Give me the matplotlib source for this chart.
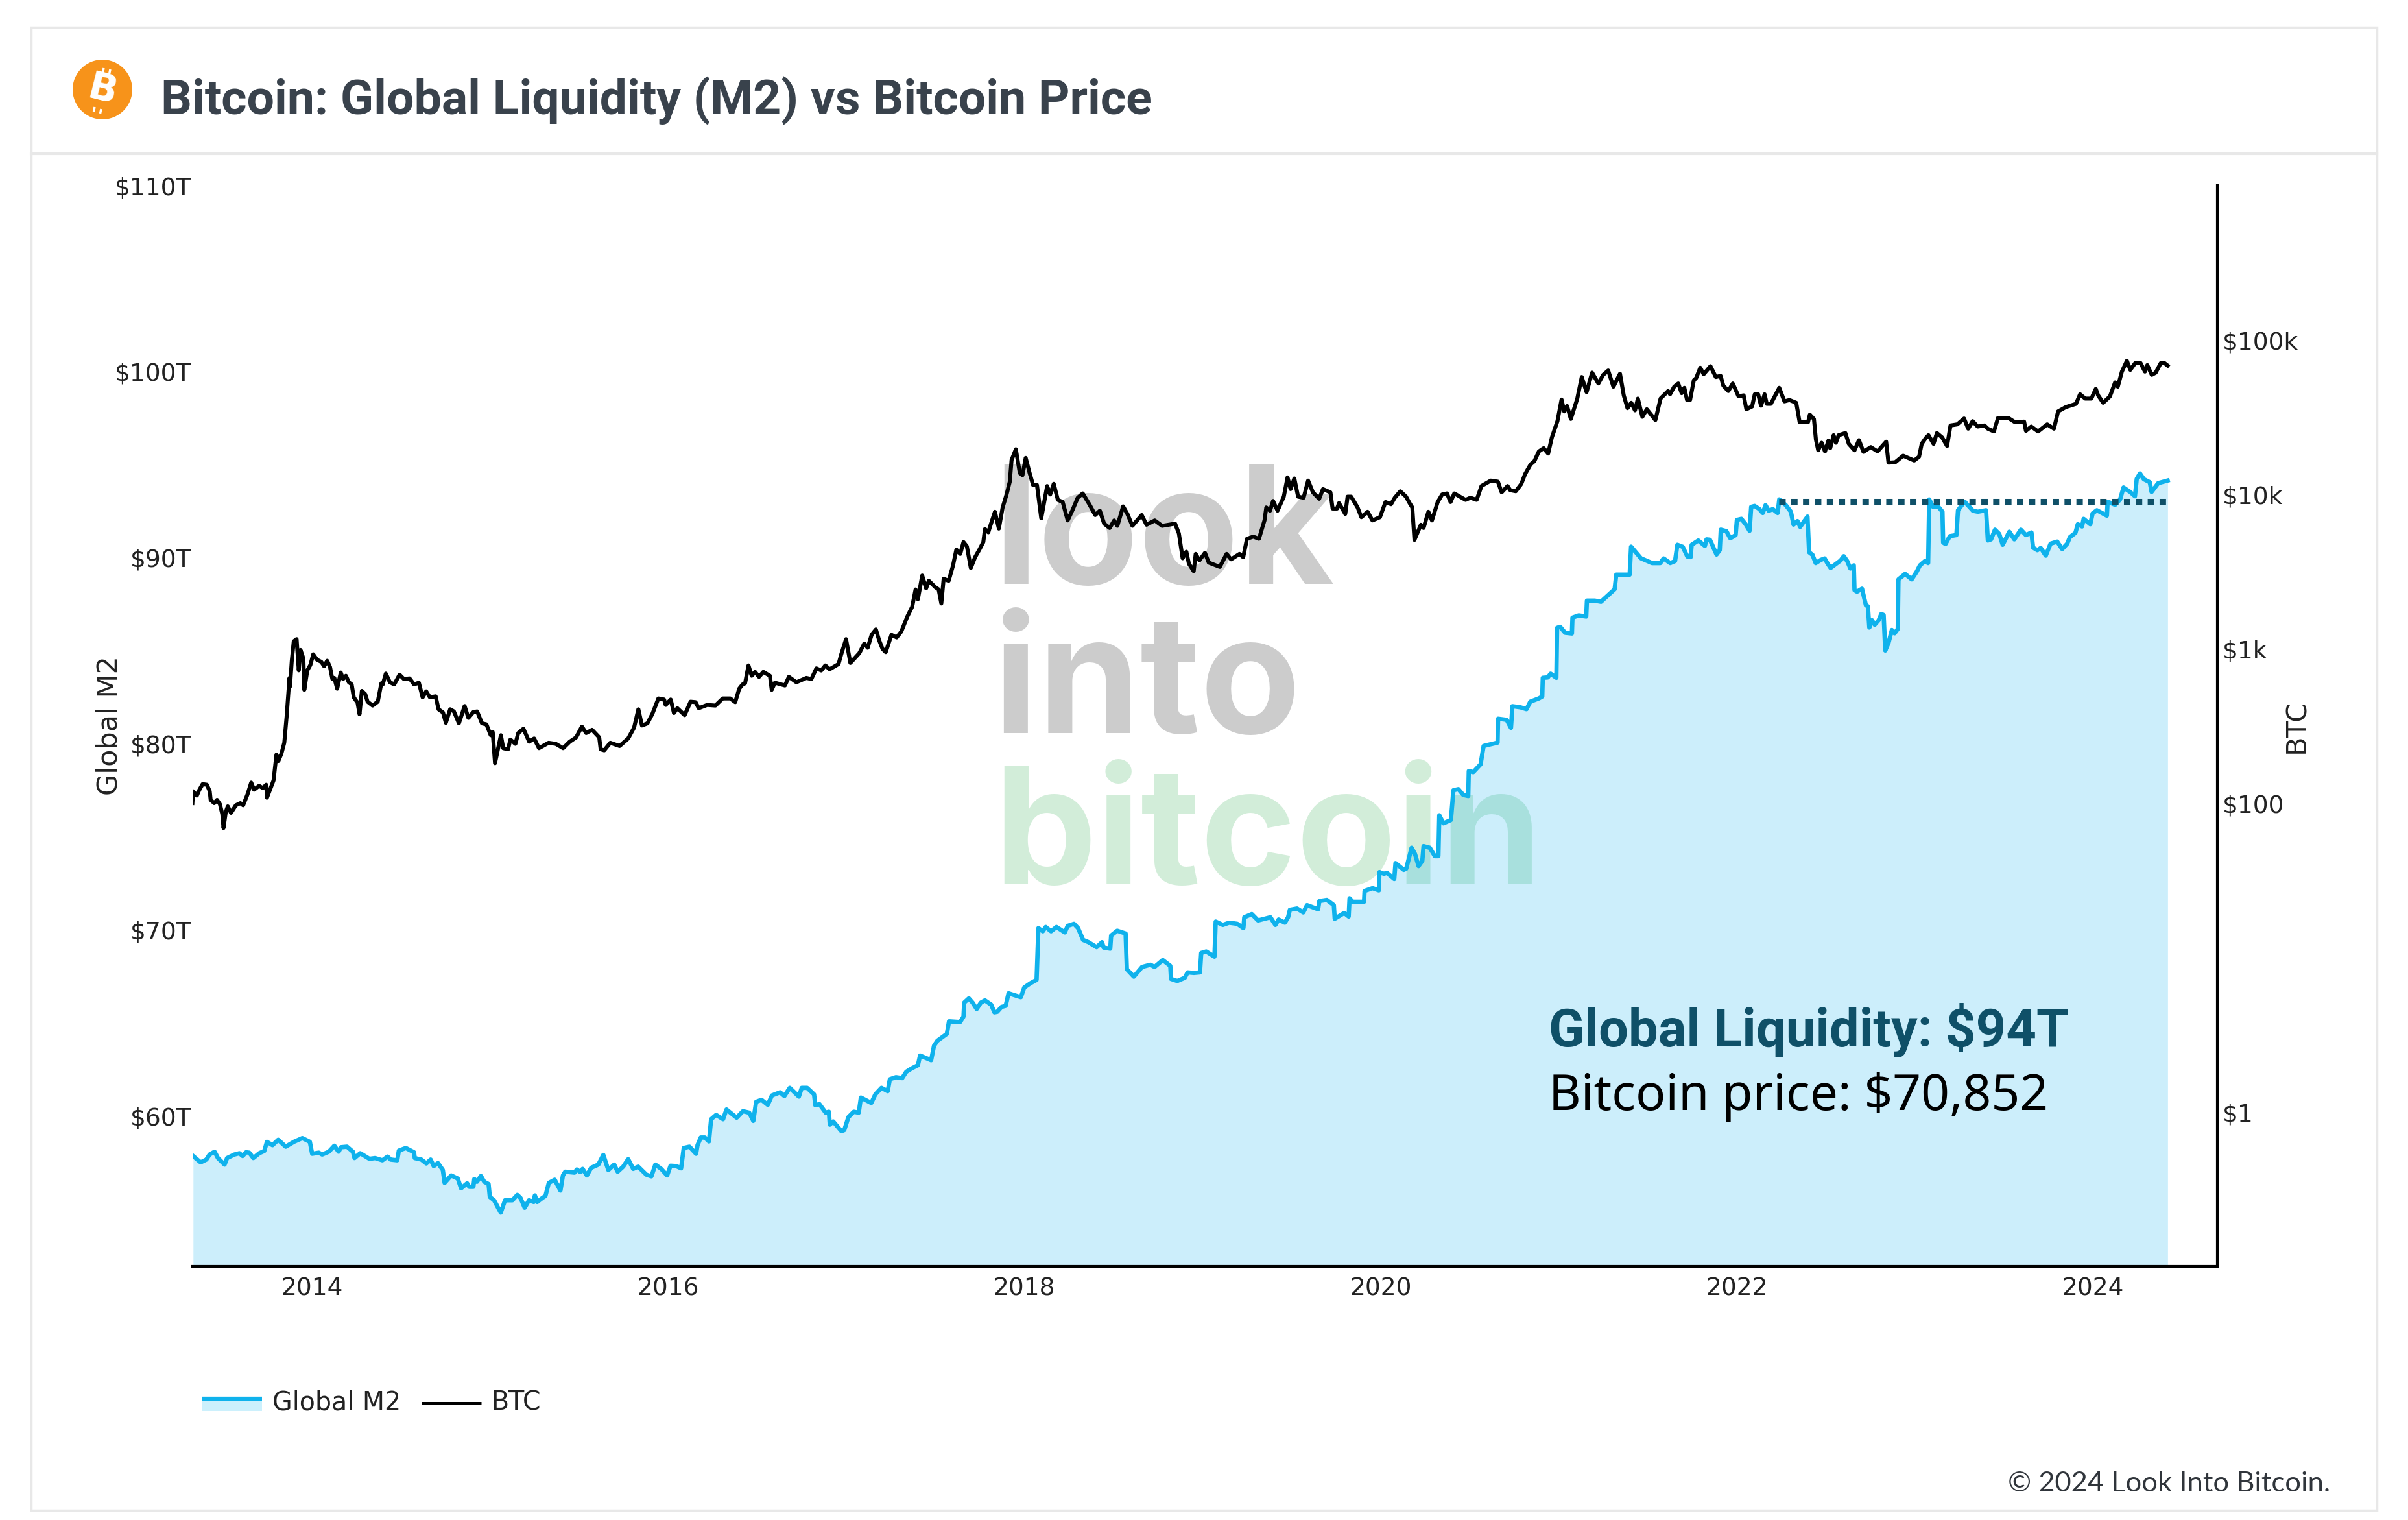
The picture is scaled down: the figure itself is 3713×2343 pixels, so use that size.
import numpy as np
import matplotlib
matplotlib.use("Agg")
import matplotlib.pyplot as plt
from matplotlib.patches import Rectangle, Circle

W, H = 3713, 2343

btc_years = [
    2013.324, 2013.328, 2013.349, 2013.362, 2013.381, 2013.405, 2013.421, 2013.426, 2013.446, 2013.462,
    2013.478, 2013.491, 2013.498, 2013.511, 2013.522, 2013.540, 2013.567, 2013.592, 2013.608, 2013.632,
    2013.653, 2013.669, 2013.697, 2013.718, 2013.737, 2013.741, 2013.762, 2013.778, 2013.794, 2013.805,
    2013.822, 2013.838, 2013.851, 2013.867, 2013.870, 2013.880, 2013.891, 2013.907, 2013.919, 2013.929,
    2013.945, 2013.950, 2013.967, 2013.984, 2014.000, 2014.021, 2014.045, 2014.061, 2014.078, 2014.094,
    2014.107, 2014.118, 2014.134, 2014.154, 2014.167, 2014.183, 2014.199, 2014.215, 2014.227, 2014.248,
    2014.259, 2014.272, 2014.291, 2014.304, 2014.332, 2014.361, 2014.381, 2014.389, 2014.406, 2014.429,
    2014.453, 2014.483, 2014.507, 2014.539, 2014.564, 2014.591, 2014.612, 2014.632, 2014.653, 2014.685,
    2014.701, 2014.726, 2014.742, 2014.766, 2014.787, 2014.815, 2014.847, 2014.868, 2014.896, 2014.917,
    2014.944, 2014.969, 2014.993, 2015.004, 2015.017, 2015.050, 2015.063, 2015.090, 2015.103, 2015.131,
    2015.147, 2015.176, 2015.208, 2015.236, 2015.263, 2015.317, 2015.357, 2015.398, 2015.435, 2015.471,
    2015.503, 2015.527, 2015.560, 2015.600, 2015.608, 2015.628, 2015.662, 2015.714, 2015.762, 2015.795,
    2015.819, 2015.839, 2015.870, 2015.898, 2015.931, 2015.963, 2015.972, 2016.000, 2016.018, 2016.037,
    2016.078, 2016.111, 2016.139, 2016.157, 2016.204, 2016.250, 2016.291, 2016.333, 2016.361, 2016.383,
    2016.402, 2016.416, 2016.435, 2016.453, 2016.472, 2016.494, 2016.518, 2016.555, 2016.565, 2016.583,
    2016.639, 2016.661, 2016.703, 2016.759, 2016.787, 2016.815, 2016.842, 2016.865, 2016.889, 2016.939,
    2016.954, 2016.981, 2017.005, 2017.055, 2017.083, 2017.102, 2017.124, 2017.148, 2017.166, 2017.185,
    2017.203, 2017.235, 2017.264, 2017.290, 2017.324, 2017.351, 2017.370, 2017.383, 2017.407, 2017.429,
    2017.444, 2017.481, 2017.499, 2017.514, 2017.527, 2017.555, 2017.579, 2017.598, 2017.620, 2017.638,
    2017.657, 2017.679, 2017.703, 2017.727, 2017.749, 2017.758, 2017.777, 2017.786, 2017.814, 2017.836,
    2017.857, 2017.879, 2017.897, 2017.907, 2017.931, 2017.953, 2017.968, 2017.986, 2018.008, 2018.027,
    2018.049, 2018.073, 2018.106, 2018.123, 2018.143, 2018.166, 2018.193, 2018.221, 2018.249, 2018.277,
    2018.305, 2018.342, 2018.375, 2018.401, 2018.425, 2018.456, 2018.481, 2018.499, 2018.531, 2018.555,
    2018.583, 2018.635, 2018.662, 2018.708, 2018.749, 2018.822, 2018.843, 2018.864, 2018.885, 2018.899,
    2018.926, 2018.937, 2018.958, 2018.989, 2019.010, 2019.072, 2019.110, 2019.135, 2019.182, 2019.203,
    2019.224, 2019.259, 2019.291, 2019.322, 2019.332, 2019.353, 2019.370, 2019.395, 2019.430, 2019.451,
    2019.468, 2019.489, 2019.510, 2019.541, 2019.566, 2019.593, 2019.628, 2019.649, 2019.691, 2019.703,
    2019.728, 2019.739, 2019.774, 2019.787, 2019.807, 2019.843, 2019.864, 2019.899, 2019.926, 2019.968,
    2019.999, 2020.030, 2020.051, 2020.082, 2020.114, 2020.134, 2020.149, 2020.161, 2020.197, 2020.212,
    2020.239, 2020.259, 2020.291, 2020.316, 2020.343, 2020.363, 2020.384, 2020.447, 2020.474, 2020.509,
    2020.536, 2020.588, 2020.628, 2020.649, 2020.682, 2020.697, 2020.728, 2020.759, 2020.780, 2020.811,
    2020.832, 2020.857, 2020.884, 2020.909, 2020.930, 2020.961, 2020.984, 2020.999, 2021.015, 2021.036,
    2021.072, 2021.097, 2021.124, 2021.155, 2021.190, 2021.217, 2021.245, 2021.274, 2021.311, 2021.332,
    2021.353, 2021.374, 2021.395, 2021.411, 2021.436, 2021.461, 2021.509, 2021.538, 2021.580, 2021.591,
    2021.614, 2021.637, 2021.656, 2021.671, 2021.686, 2021.703, 2021.724, 2021.737, 2021.760, 2021.779,
    2021.817, 2021.847, 2021.874, 2021.889, 2021.917, 2021.942, 2021.974, 2022.003, 2022.018, 2022.050,
    2022.065, 2022.084, 2022.100, 2022.120, 2022.132, 2022.155, 2022.202, 2022.231, 2022.259, 2022.297,
    2022.316, 2022.363, 2022.373, 2022.396, 2022.407, 2022.420, 2022.439, 2022.458, 2022.477, 2022.487,
    2022.506, 2022.519, 2022.534, 2022.572, 2022.591, 2022.623, 2022.648, 2022.673, 2022.714, 2022.752,
    2022.800, 2022.813, 2022.851, 2022.895, 2022.957, 2022.984, 2022.999, 2023.022, 2023.037, 2023.065,
    2023.084, 2023.113, 2023.141, 2023.160, 2023.198, 2023.236, 2023.259, 2023.284, 2023.312, 2023.350,
    2023.369, 2023.403, 2023.426, 2023.483, 2023.521, 2023.572, 2023.582, 2023.612, 2023.650, 2023.701,
    2023.739, 2023.762, 2023.805, 2023.862, 2023.885, 2023.914, 2023.948, 2023.973, 2023.986, 2024.014,
    2024.052, 2024.081, 2024.096, 2024.119, 2024.147, 2024.166, 2024.194, 2024.223, 2024.248, 2024.261,
    2024.286, 2024.308, 2024.337, 2024.356, 2024.375,
]
btc_log10 = [
    2.000, 2.077, 2.049, 2.084, 2.123, 2.119, 2.077, 2.021, 2.000, 2.021,
    1.993, 1.930, 1.839, 1.944, 1.979, 1.937, 1.986, 2.000, 1.986, 2.056,
    2.133, 2.087, 2.112, 2.098, 2.119, 2.035, 2.098, 2.147, 2.314, 2.273,
    2.321, 2.391, 2.559, 2.811, 2.755, 2.922, 3.048, 3.062, 2.860, 2.992,
    2.936, 2.734, 2.860, 2.895, 2.964, 2.929, 2.915, 2.887, 2.922, 2.881,
    2.804, 2.811, 2.741, 2.846, 2.804, 2.825, 2.783, 2.769, 2.685, 2.650,
    2.576, 2.727, 2.706, 2.657, 2.632, 2.657, 2.776, 2.769, 2.839, 2.783,
    2.769, 2.832, 2.804, 2.808, 2.769, 2.780, 2.685, 2.724, 2.685, 2.692,
    2.608, 2.587, 2.520, 2.608, 2.594, 2.517, 2.629, 2.552, 2.590, 2.594,
    2.517, 2.510, 2.440, 2.461, 2.259, 2.440, 2.356, 2.349, 2.412, 2.384,
    2.454, 2.482, 2.398, 2.419, 2.356, 2.391, 2.384, 2.356, 2.398, 2.426,
    2.496, 2.454, 2.475, 2.426, 2.349, 2.342, 2.391, 2.370, 2.419, 2.489,
    2.608, 2.503, 2.517, 2.580, 2.678, 2.671, 2.636, 2.671, 2.584, 2.615,
    2.570, 2.657, 2.654, 2.615, 2.636, 2.632, 2.678, 2.678, 2.654, 2.741,
    2.769, 2.776, 2.892, 2.825, 2.850, 2.818, 2.850, 2.825, 2.734, 2.780,
    2.762, 2.818, 2.783, 2.811, 2.804, 2.873, 2.859, 2.892, 2.867, 2.901,
    2.964, 3.062, 2.908, 2.971, 3.034, 3.006, 3.090, 3.125, 3.055, 2.999,
    2.978, 3.090, 3.073, 3.111, 3.209, 3.272, 3.384, 3.321, 3.474, 3.391,
    3.440, 3.398, 3.384, 3.293, 3.453, 3.440, 3.537, 3.642, 3.614, 3.691,
    3.663, 3.523, 3.593, 3.642, 3.691, 3.775, 3.754, 3.789, 3.887, 3.778,
    3.915, 3.999, 4.082, 4.222, 4.292, 4.138, 4.124, 4.236, 4.138, 4.061,
    4.061, 3.845, 4.054, 3.999, 4.068, 3.964, 3.950, 3.831, 3.901, 3.978,
    4.006, 3.936, 3.866, 3.894, 3.810, 3.782, 3.831, 3.796, 3.922, 3.873,
    3.796, 3.866, 3.803, 3.831, 3.796, 3.810, 3.747, 3.586, 3.628, 3.551,
    3.502, 3.614, 3.572, 3.621, 3.558, 3.530, 3.614, 3.579, 3.614, 3.593,
    3.712, 3.726, 3.712, 3.831, 3.915, 3.894, 3.957, 3.894, 3.985, 4.110,
    4.034, 4.103, 3.985, 3.978, 4.089, 4.013, 3.971, 4.034, 4.013, 3.908,
    3.908, 3.943, 3.873, 3.985, 3.985, 3.915, 3.852, 3.887, 3.831, 3.852,
    3.950, 3.936, 3.978, 4.020, 3.985, 3.943, 3.915, 3.705, 3.803, 3.782,
    3.887, 3.831, 3.950, 3.999, 4.006, 3.950, 4.006, 3.964, 3.978, 3.964,
    4.054, 4.089, 4.082, 4.013, 4.054, 4.027, 4.020, 4.068, 4.131, 4.194,
    4.215, 4.278, 4.299, 4.264, 4.369, 4.474, 4.614, 4.537, 4.572, 4.488,
    4.620, 4.760, 4.662, 4.788, 4.718, 4.774, 4.802, 4.697, 4.781, 4.641,
    4.558, 4.593, 4.544, 4.620, 4.502, 4.551, 4.481, 4.621, 4.669, 4.648,
    4.697, 4.718, 4.655, 4.690, 4.611, 4.611, 4.739, 4.753, 4.820, 4.778,
    4.830, 4.760, 4.767, 4.704, 4.669, 4.718, 4.635, 4.641, 4.551, 4.569,
    4.648, 4.648, 4.574, 4.648, 4.586, 4.586, 4.690, 4.602, 4.611, 4.593,
    4.467, 4.467, 4.516, 4.488, 4.355, 4.285, 4.334, 4.278, 4.348, 4.299,
    4.383, 4.334, 4.383, 4.397, 4.327, 4.285, 4.351, 4.275, 4.306, 4.278,
    4.341, 4.205, 4.208, 4.250, 4.219, 4.243, 4.327, 4.365, 4.383, 4.327,
    4.397, 4.369, 4.313, 4.446, 4.453, 4.491, 4.425, 4.474, 4.439, 4.446,
    4.425, 4.407, 4.495, 4.495, 4.467, 4.471, 4.411, 4.439, 4.407, 4.453,
    4.425, 4.537, 4.565, 4.586, 4.648, 4.620, 4.620, 4.683, 4.641, 4.593,
    4.634, 4.725, 4.697, 4.795, 4.865, 4.806, 4.851, 4.851, 4.795, 4.837,
    4.774, 4.788, 4.851, 4.851, 4.834,
]

# Global M2 in trillions of dollars
m2_years = [
    2013.328, 2013.370, 2013.402, 2013.420, 2013.448, 2013.467, 2013.504, 2013.518, 2013.559, 2013.587,
    2013.605, 2013.624, 2013.642, 2013.665, 2013.698, 2013.726, 2013.741, 2013.772, 2013.804, 2013.846,
    2013.892, 2013.939, 2013.981, 2013.994, 2014.031, 2014.050, 2014.087, 2014.118, 2014.142, 2014.155,
    2014.189, 2014.222, 2014.231, 2014.263, 2014.314, 2014.346, 2014.387, 2014.416, 2014.433, 2014.470,
    2014.479, 2014.518, 2014.564, 2014.568, 2014.605, 2014.633, 2014.657, 2014.674, 2014.698, 2014.725,
    2014.735, 2014.772, 2014.809, 2014.827, 2014.861, 2014.873, 2014.896, 2014.901, 2014.916, 2014.938,
    2014.957, 2014.981, 2014.988, 2015.012, 2015.049, 2015.073, 2015.114, 2015.142, 2015.160, 2015.183,
    2015.207, 2015.234, 2015.240, 2015.253, 2015.284, 2015.299, 2015.318, 2015.351, 2015.383, 2015.397,
    2015.410, 2015.462, 2015.475, 2015.494, 2015.507, 2015.531, 2015.555, 2015.595, 2015.623, 2015.651,
    2015.684, 2015.703, 2015.734, 2015.762, 2015.790, 2015.818, 2015.864, 2015.892, 2015.914, 2015.947,
    2015.980, 2015.999, 2016.031, 2016.058, 2016.073, 2016.105, 2016.142, 2016.150, 2016.168, 2016.191,
    2016.214, 2016.226, 2016.254, 2016.293, 2016.312, 2016.369, 2016.404, 2016.439, 2016.462, 2016.478,
    2016.508, 2016.543, 2016.566, 2016.612, 2016.636, 2016.666, 2016.689, 2016.717, 2016.733, 2016.763,
    2016.802, 2016.809, 2016.832, 2016.867, 2016.885, 2016.890, 2016.909, 2016.955, 2016.971, 2016.994,
    2017.024, 2017.052, 2017.064, 2017.122, 2017.145, 2017.179, 2017.214, 2017.226, 2017.260, 2017.295,
    2017.318, 2017.348, 2017.383, 2017.395, 2017.457, 2017.473, 2017.492, 2017.545, 2017.557, 2017.619,
    2017.638, 2017.642, 2017.668, 2017.689, 2017.712, 2017.735, 2017.758, 2017.793, 2017.811, 2017.827,
    2017.851, 2017.874, 2017.890, 2017.959, 2017.978, 2018.013, 2018.047, 2018.057, 2018.082, 2018.098,
    2018.128, 2018.158, 2018.205, 2018.221, 2018.256, 2018.279, 2018.307, 2018.337, 2018.383, 2018.413,
    2018.422, 2018.459, 2018.464, 2018.498, 2018.545, 2018.552, 2018.591, 2018.637, 2018.684, 2018.707,
    2018.753, 2018.795, 2018.799, 2018.834, 2018.876, 2018.892, 2018.927, 2018.961, 2018.968, 2018.996,
    2019.042, 2019.049, 2019.089, 2019.124, 2019.170, 2019.204, 2019.209, 2019.251, 2019.286, 2019.355,
    2019.383, 2019.401, 2019.436, 2019.454, 2019.464, 2019.504, 2019.539, 2019.560, 2019.594, 2019.622,
    2019.629, 2019.671, 2019.710, 2019.715, 2019.768, 2019.793, 2019.798, 2019.816, 2019.879, 2019.882,
    2019.927, 2019.962, 2019.965, 2019.990, 2020.007, 2020.048, 2020.055, 2020.101, 2020.115, 2020.145,
    2020.164, 2020.184, 2020.205, 2020.212, 2020.247, 2020.275, 2020.295, 2020.300, 2020.323, 2020.365,
    2020.379, 2020.407, 2020.434, 2020.462, 2020.465, 2020.490, 2020.531, 2020.548, 2020.573, 2020.626,
    2020.629, 2020.677, 2020.701, 2020.709, 2020.754, 2020.788, 2020.809, 2020.858, 2020.876, 2020.879,
    2020.907, 2020.923, 2020.955, 2020.959, 2020.976, 2021.004, 2021.042, 2021.045, 2021.080, 2021.122,
    2021.126, 2021.170, 2021.205, 2021.218, 2021.281, 2021.290, 2021.365, 2021.373, 2021.428, 2021.491,
    2021.536, 2021.555, 2021.592, 2021.619, 2021.632, 2021.662, 2021.688, 2021.706, 2021.712, 2021.749,
    2021.786, 2021.795, 2021.814, 2021.851, 2021.869, 2021.875, 2021.906, 2021.928, 2021.958, 2021.965,
    2021.990, 2022.014, 2022.036, 2022.045, 2022.064, 2022.091, 2022.110, 2022.125, 2022.143, 2022.166,
    2022.193, 2022.202, 2022.239, 2022.267, 2022.282, 2022.304, 2022.319, 2022.360, 2022.369, 2022.388,
    2022.406, 2022.434, 2022.456, 2022.471, 2022.489, 2022.517, 2022.545, 2022.563, 2022.582, 2022.600,
    2022.619, 2022.623, 2022.637, 2022.665, 2022.687, 2022.698, 2022.706, 2022.721, 2022.736, 2022.758,
    2022.773, 2022.786, 2022.795, 2022.813, 2022.832, 2022.847, 2022.865, 2022.869, 2022.906, 2022.943,
    2022.971, 2022.989, 2023.017, 2023.035, 2023.041, 2023.063, 2023.091, 2023.115, 2023.119, 2023.132,
    2023.156, 2023.193, 2023.202, 2023.239, 2023.286, 2023.313, 2023.359, 2023.369, 2023.387, 2023.409,
    2023.433, 2023.452, 2023.489, 2023.517, 2023.554, 2023.582, 2023.613, 2023.622, 2023.646, 2023.665,
    2023.693, 2023.720, 2023.757, 2023.785, 2023.813, 2023.828, 2023.859, 2023.872, 2023.896, 2023.905,
    2023.942, 2023.955, 2023.979, 2024.035, 2024.039, 2024.081, 2024.109, 2024.128, 2024.165, 2024.192,
    2024.202, 2024.220, 2024.242, 2024.275, 2024.285, 2024.322, 2024.375,
]
m2_trillions = [
    58.10, 57.76, 57.91, 58.18, 58.33, 57.99, 57.64, 57.99, 58.18, 58.25,
    58.10, 58.30, 58.28, 57.99, 58.25, 58.37, 58.86, 58.68, 58.97, 58.60,
    58.86, 59.06, 58.86, 58.22, 58.28, 58.18, 58.33, 58.65, 58.33, 58.57,
    58.60, 58.33, 57.99, 58.25, 57.95, 57.99, 57.87, 58.07, 57.91, 57.87,
    58.39, 58.53, 58.30, 57.99, 57.91, 57.70, 57.91, 57.56, 57.72, 57.35,
    56.66, 57.06, 56.89, 56.37, 56.64, 56.45, 56.45, 56.87, 56.72, 57.03,
    56.72, 56.60, 55.91, 55.73, 55.07, 55.73, 55.73, 56.02, 55.85, 55.33,
    55.73, 55.64, 55.99, 55.64, 55.87, 55.96, 56.66, 56.83, 56.25, 57.06,
    57.26, 57.21, 57.38, 57.24, 57.41, 57.06, 57.47, 57.64, 58.16, 57.35,
    57.64, 57.26, 57.53, 57.93, 57.41, 57.53, 57.10, 57.01, 57.64, 57.41,
    57.06, 57.58, 57.56, 57.44, 58.53, 58.60, 58.22, 58.68, 59.09, 59.09,
    58.88, 60.07, 60.30, 60.07, 60.59, 60.15, 60.50, 60.42, 59.98, 61.00,
    61.11, 60.84, 61.34, 61.51, 61.31, 61.75, 61.54, 61.28, 61.75, 61.75,
    61.40, 60.82, 60.88, 60.42, 60.47, 59.78, 59.95, 59.43, 59.49, 60.18,
    60.47, 60.42, 61.23, 60.94, 61.40, 61.75, 61.57, 62.21, 62.32, 62.27,
    62.61, 62.79, 62.96, 63.48, 63.23, 64.00, 64.27, 64.64, 65.31, 65.27,
    65.56, 66.31, 66.54, 66.31, 65.97, 66.31, 66.43, 66.20, 65.79, 65.82,
    66.08, 66.14, 66.81, 66.60, 67.12, 67.35, 67.53, 70.30, 70.13, 70.36,
    70.13, 70.36, 70.07, 70.42, 70.53, 70.30, 69.67, 69.55, 69.28, 69.55,
    69.26, 69.20, 69.90, 70.16, 70.01, 68.10, 67.70, 68.22, 68.34, 68.22,
    68.59, 68.28, 67.58, 67.47, 67.64, 67.93, 67.90, 67.93, 68.97, 69.05,
    68.77, 70.65, 70.47, 70.59, 70.53, 70.30, 70.88, 71.05, 70.71, 70.88,
    70.47, 70.76, 70.59, 70.88, 71.28, 71.35, 71.14, 71.53, 71.41, 71.31,
    71.75, 71.81, 71.53, 70.80, 71.11, 70.92, 71.90, 71.71, 71.71, 72.29,
    72.44, 72.32, 73.30, 73.21, 73.26, 72.93, 73.78, 73.42, 73.48, 74.60,
    74.27, 73.62, 73.90, 74.69, 74.60, 74.15, 74.15, 76.34, 75.91, 76.09,
    77.68, 77.74, 77.43, 77.37, 78.71, 78.65, 79.07, 80.05, 80.11, 80.23,
    81.51, 81.45, 81.02, 82.18, 82.12, 82.02, 82.42, 82.60, 82.70, 83.70,
    83.72, 83.92, 83.70, 86.37, 86.43, 86.11, 86.07, 86.92, 87.04, 86.98,
    87.83, 87.83, 87.77, 87.89, 88.44, 89.22, 89.22, 90.72, 90.10, 89.84,
    89.84, 90.09, 89.84, 89.95, 90.82, 90.71, 90.19, 90.16, 90.82, 91.05,
    90.76, 91.11, 91.09, 90.30, 90.53, 91.63, 91.55, 91.17, 91.34, 92.15,
    92.21, 91.92, 91.57, 92.85, 92.90, 92.73, 92.52, 92.94, 92.64, 92.73,
    92.52, 93.25, 92.94, 92.59, 91.90, 92.09, 91.78, 92.33, 90.42, 90.28,
    89.84, 90.01, 90.09, 89.84, 89.58, 89.78, 89.98, 90.21, 89.95, 89.55,
    89.72, 88.39, 88.31, 88.47, 87.58, 87.53, 86.39, 86.78, 86.54, 86.78,
    87.12, 87.06, 85.16, 85.56, 86.26, 86.08, 86.31, 88.97, 89.26, 88.97,
    89.38, 89.72, 89.95, 89.84, 93.25, 92.85, 92.87, 92.59, 90.94, 90.86,
    91.28, 91.34, 92.67, 93.13, 92.64, 92.59, 92.67, 91.05, 91.11, 91.63,
    91.40, 90.82, 91.52, 91.11, 91.63, 91.34, 91.48, 90.67, 90.53, 90.65,
    90.24, 90.88, 90.99, 90.59, 90.88, 91.23, 91.46, 91.92, 91.80, 92.21,
    91.92, 92.50, 92.67, 92.38, 93.13, 92.96, 93.25, 93.89, 93.65, 93.42,
    94.35, 94.64, 94.33, 94.17, 93.65, 94.12, 94.26,
]

# previous high, the dotted line
prev_high = 93.02
prev_high_years = [2022.239, 2024.42]

x_ticks = [2014, 2016, 2018, 2020, 2022, 2024]
m2_ticks = [60, 70, 80, 90, 100, 110]
m2_labels = ["$60T", "$70T", "$80T", "$90T", "$100T", "$110T"]
btc_ticks = [1, 100, 1000, 10000, 100000]
btc_labels = ["$1", "$100", "$1k", "$10k", "$100k"]

BLUE = "#0fb2ec"
NAVY = "#0f5068"
TICK_SIZE = 27


# first readings used slightly off tick positions, these put them on the real scales
def fix_years(y):
    return 2014 + (275.6 * (np.array(y) - 2014) + 2) / 274.6


def fix_m2(v):
    return 60 + (28.83 * (np.array(v) - 60) - 7) / 28.72


fig = plt.figure(figsize=(W / 100, H / 100), dpi=100, facecolor="white")
plt.rcParams["font.family"] = "DejaVu Sans"

# pixel-space layer for card, header, watermark, legend
bg = fig.add_axes([0, 0, 1, 1], zorder=0)
bg.set_xlim(0, W)
bg.set_ylim(H, 0)
bg.axis("off")
bg.add_patch(Rectangle((48, 42), 3617, 2286, fc="white", ec="#e8e8e8", lw=2.5))
bg.plot([48, 3665], [237, 237], color="#e8e8e8", lw=3)

# logo
bg.add_patch(Circle((158, 138), 46, fc="#f7931a", ec="none"))
bg.text(158, 139, "B", color="white", family="DejaVu Sans", weight="bold",
        fontsize=42, ha="center", va="center", rotation=-14)
for x0, y0 in [(160, 105), (170, 107), (146, 165), (156, 168)]:
    bg.plot([x0, x0 - 1.5], [y0, y0 + 7], color="white", lw=2.5, solid_capstyle="butt")

bg.text(248, 176, "Bitcoin: Global Liquidity (M2) vs Bitcoin Price", family="Roboto", weight="bold",
        fontsize=54.2, color="#39424c", ha="left", va="baseline")

bg.text(1532, 900, "look", family="Inter", weight="bold", fontsize=182, color="#cccccc", va="baseline")
bg.text(1532, 1130, "into", family="Inter", weight="bold", fontsize=182, color="#cccccc", va="baseline")
bg.text(1532, 1363, "bitcoin", family="Inter", weight="bold", fontsize=181, color="#d2edd9", va="baseline")

bg.add_patch(Rectangle((312, 2156), 92, 19, fc="#ccf0fc", ec="none"))
bg.plot([312, 404], [2156, 2156], color=BLUE, lw=4.5, solid_capstyle="butt")
bg.text(420, 2174, "Global M2", fontsize=28.5, color="#222222", va="baseline")
bg.plot([650, 742], [2163, 2163], color="black", lw=3.6, solid_capstyle="butt")
bg.text(757, 2174, "BTC", fontsize=28.5, color="#222222", va="baseline")

bg.text(3096, 2299, "© 2024 Look Into Bitcoin.", family="Lato", fontsize=31.3, color="#30353b", va="baseline")

# chart axes
left, right, top, bottom = 297, 3419, 286, 1952
rect = [left / W, 1 - bottom / H, (right - left) / W, (bottom - top) / H]
ax = fig.add_axes(rect, zorder=1)
ax.patch.set_alpha(0)
ax.fill_between(fix_years(m2_years), fix_m2(m2_trillions), 51.92, color="#00aeef", alpha=0.2, lw=0)
ax.plot(fix_years(m2_years), fix_m2(m2_trillions), color=BLUE, lw=4.8, solid_joinstyle="round")
ax.plot(prev_high_years, [prev_high, prev_high], color=NAVY, lw=6.5, dashes=(1.1, 0.93), dash_capstyle="butt")
ax.set_xlim(2013.330, 2024.699)
ax.set_ylim(51.92, 109.93)
ax.set_xticks(x_ticks)
ax.set_xticklabels([str(y) for y in x_ticks])
ax.set_yticks(m2_ticks)
ax.set_yticklabels(m2_labels)
ax.tick_params(axis="both", length=0, labelsize=TICK_SIZE, labelcolor="#222222")
ax.tick_params(axis="x", pad=12)
ax.tick_params(axis="y", pad=1)
ax.set_ylabel("Global M2", fontsize=31, color="#222222")
ax.yaxis.set_label_coords(-0.0345, 0.5)
for s in ["top", "left", "right"]:
    ax.spines[s].set_visible(False)
ax.spines["bottom"].set_linewidth(3)

ax2 = ax.twinx()
ax2.set_zorder(2)
ax2.patch.set_alpha(0)
ax2.set_yscale("log")
ax2.plot(fix_years(btc_years), 10 ** np.array(btc_log10), color="black", lw=4.4, solid_joinstyle="round")
ax2.set_ylim(0.1, 1e6)
ax2.set_yticks(btc_ticks)
ax2.set_yticklabels(btc_labels)
ax2.minorticks_off()
ax2.tick_params(axis="y", length=0, pad=6, labelsize=TICK_SIZE, labelcolor="#222222")
ax2.set_ylabel("BTC", fontsize=31, color="#222222")
ax2.yaxis.set_label_coords(1.0323, 0.5)
for s in ["top", "left", "bottom"]:
    ax2.spines[s].set_visible(False)
ax2.spines["right"].set_linewidth(3)

# call-out text
fg = fig.add_axes([0, 0, 1, 1], zorder=3)
fg.set_xlim(0, W)
fg.set_ylim(H, 0)
fg.axis("off")
fg.text(2388, 1613, "Global Liquidity: $94T", family="Roboto", weight="bold", fontsize=58.6, color=NAVY, va="baseline")
fg.text(2388, 1711, "Bitcoin price: $70,852", family="Noto Sans", fontsize=55.2, color="black", va="baseline")

fig.savefig("out.png", dpi=100)
